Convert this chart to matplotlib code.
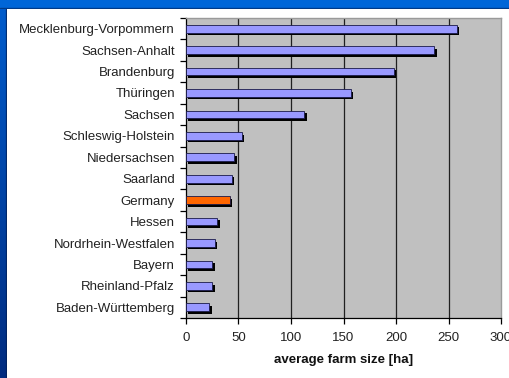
import numpy as np
import matplotlib
matplotlib.use("Agg")
import matplotlib.pyplot as plt
from matplotlib.transforms import offset_copy
from matplotlib.patches import Rectangle

plt.rcParams['font.family'] = ['Liberation Sans', 'DejaVu Sans']

states = ["Mecklenburg-Vorpommern", "Sachsen-Anhalt", "Brandenburg", "Thüringen",
          "Sachsen", "Schleswig-Holstein", "Niedersachsen", "Saarland", "Germany",
          "Hessen", "Nordrhein-Westfalen", "Bayern", "Rheinland-Pfalz",
          "Baden-Württemberg"]
farm_size = [258, 236.5, 198, 157, 112.5, 53, 46, 43.5, 41.5, 30, 27.5, 25, 24.8, 22]
x_ticks = [0, 50, 100, 150, 200, 250, 300]
highlight = "Germany"

W, H, DPI = 510, 378, 100
fig = plt.figure(figsize=(W / DPI, H / DPI), dpi=DPI)
fig.patch.set_facecolor("white")

# blue slide frame: top band and a left band with a vertical gradient
top_ax = fig.add_axes([0, 1 - 9 / H, 1, 9 / H])
top_ax.imshow(np.array([[[0.0, 0.40, 0.85]]]), aspect="auto", extent=[0, 1, 0, 1])
top_ax.add_patch(Rectangle((0, 0), 1, 0.12, color="#003a88"))
top_ax.set_xlim(0, 1); top_ax.set_ylim(0, 1); top_ax.axis("off")

left_ax = fig.add_axes([0, 0, 7 / W, 1 - 9 / H])
grad = np.linspace(0, 1, 256)[:, None]
top_c = np.array([0.0, 0.36, 0.80])
bot_c = np.array([0.0, 0.17, 0.50])
img = top_c[None, None, :] * (1 - grad[:, :, None]) + bot_c[None, None, :] * grad[:, :, None]
left_ax.imshow(img, aspect="auto", extent=[0, 1, 0, 1])
left_ax.add_patch(Rectangle((0.8, 0), 0.2, 1, color="#001e55", alpha=0.6))
left_ax.set_xlim(0, 1); left_ax.set_ylim(0, 1); left_ax.axis("off")

x0, x1 = 186, 501
y_top, y_bot = 18, 318
ax = fig.add_axes([x0 / W, 1 - y_bot / H, (x1 - x0) / W, (y_bot - y_top) / H])
ax.set_facecolor("#c0c0c0")

n = len(states)
ypos = np.arange(n)[::-1]
colors = ["#ff6600" if s == highlight else "#9999ff" for s in states]
bar_h = 0.36

shadow_tr = offset_copy(ax.transData, fig=fig, x=2.5, y=-2.5, units="dots")
ax.barh(ypos, farm_size, height=bar_h, color="black", transform=shadow_tr, zorder=2)
ax.barh(ypos, farm_size, height=bar_h, color=colors, edgecolor="#1a1a4a",
        linewidth=0.6, zorder=3)

ax.set_xlim(0, 300)
ax.set_ylim(-0.5, n - 0.5)
ax.set_xticks(x_ticks)
ax.set_xticklabels([str(t) for t in x_ticks], fontsize=9.5, color="#222222")
for t in x_ticks[1:-1]:
    ax.axvline(t, color="#202020", linewidth=0.9, zorder=1)

ax.set_yticks(ypos)
ax.set_yticklabels(states, fontsize=9.5, color="#222222")
ax.tick_params(axis="y", which="major", length=0, pad=8)
ax.set_yticks(np.arange(n + 1) - 0.5, minor=True)
ax.tick_params(axis="y", which="minor", length=4, width=0.9, direction="out", color="black")
ax.tick_params(axis="x", which="major", length=4, width=0.9, direction="out", pad=6)

for side in ("left", "bottom"):
    ax.spines[side].set_color("black")
    ax.spines[side].set_linewidth(0.9)
for side in ("top", "right"):
    ax.spines[side].set_color("#9a9a9a")
    ax.spines[side].set_linewidth(1.0)

ax.set_xlabel("average farm size [ha]", fontsize=9.5, fontweight="bold", labelpad=7,
              color="#111111")

fig.savefig("out.png", dpi=DPI, facecolor=fig.get_facecolor())
